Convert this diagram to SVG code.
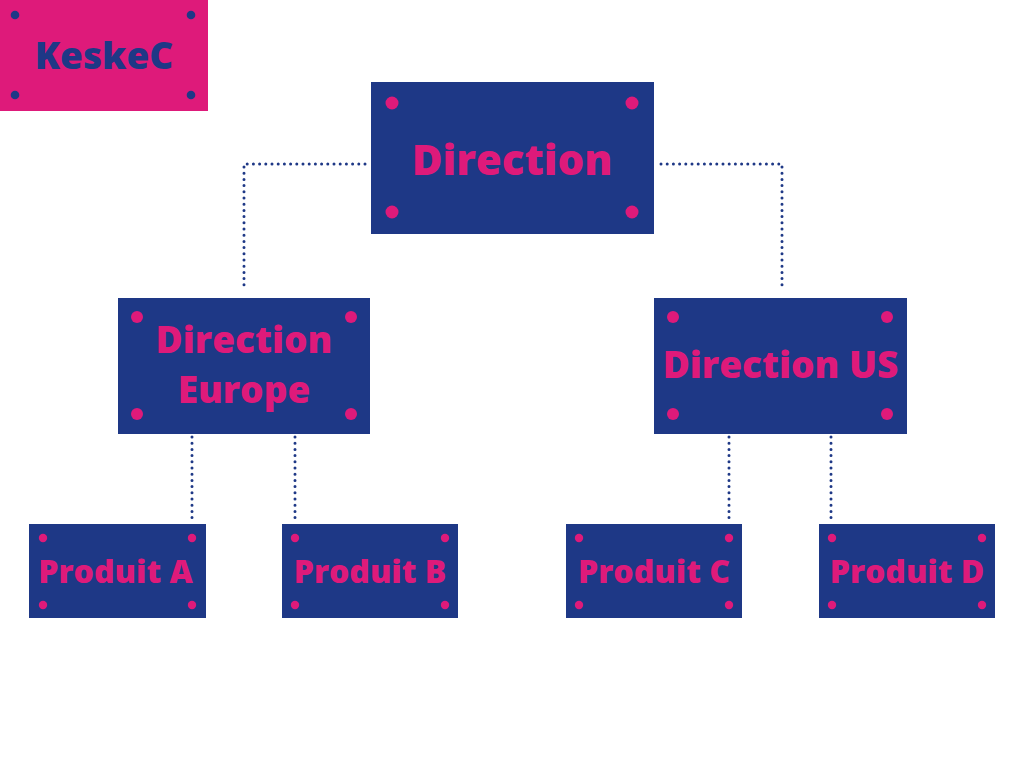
<svg xmlns="http://www.w3.org/2000/svg" width="1024" height="768" viewBox="0 0 1024 768">
<style>
.box{fill:#1E3886;}
.logo{fill:#DE1A7A;}
.dp{fill:#DE1A7A;}
.dn{fill:#1E3886;}
.t{font-family:"Open Sans","Liberation Sans",sans-serif;font-weight:800;fill:#DE1A7A;text-anchor:middle;}
.tl{font-family:"Open Sans","Liberation Sans",sans-serif;font-weight:800;fill:#1E3886;text-anchor:middle;}
.c{fill:none;stroke:#1E3886;stroke-width:3;stroke-linecap:round;stroke-dasharray:0 6.2;}
</style>
<rect width="1024" height="768" fill="#ffffff"/>
<g id="connectors">
<path class="c" d="M365 164 H244 V290"/>
<path class="c" d="M661 164 H782 V290"/>
<path class="c" d="M192 437 V520"/>
<path class="c" d="M295 437 V520"/>
<path class="c" d="M729 437 V520"/>
<path class="c" d="M831 437 V520"/>
</g>
<g id="keskec">
<rect class="logo" x="0" y="0" width="208" height="111"/>
<circle class="dn" cx="15" cy="15" r="4.3"/>
<circle class="dn" cx="191" cy="15" r="4.3"/>
<circle class="dn" cx="15" cy="95" r="4.3"/>
<circle class="dn" cx="191" cy="95" r="4.3"/>
<text class="tl" x="104" y="69" font-size="37">KeskeC</text>
</g>
<g id="direction">
<rect class="box" x="371" y="82" width="283" height="152"/>
<circle class="dp" cx="392" cy="103" r="6.5"/>
<circle class="dp" cx="632" cy="103" r="6.5"/>
<circle class="dp" cx="392" cy="212" r="6.5"/>
<circle class="dp" cx="632" cy="212" r="6.5"/>
<text class="t" x="512" y="175" font-size="42">Direction</text>
</g>
<g id="direction-europe">
<rect class="box" x="118" y="298" width="252" height="136"/>
<circle class="dp" cx="137" cy="317" r="6"/>
<circle class="dp" cx="351" cy="317" r="6"/>
<circle class="dp" cx="137" cy="414" r="6"/>
<circle class="dp" cx="351" cy="414" r="6"/>
<text class="t" x="244" y="353" font-size="37">Direction</text>
<text class="t" x="244" y="403" font-size="37">Europe</text>
</g>
<g id="direction-us">
<rect class="box" x="654" y="298" width="253" height="136"/>
<circle class="dp" cx="673" cy="317" r="6"/>
<circle class="dp" cx="887" cy="317" r="6"/>
<circle class="dp" cx="673" cy="414" r="6"/>
<circle class="dp" cx="887" cy="414" r="6"/>
<text class="t" x="780.5" y="378" font-size="37">Direction US</text>
</g>
<g id="produit-a">
<rect class="box" x="29" y="524" width="177" height="94"/>
<circle class="dp" cx="43" cy="538" r="4.2"/>
<circle class="dp" cx="192" cy="538" r="4.2"/>
<circle class="dp" cx="43" cy="605" r="4.2"/>
<circle class="dp" cx="192" cy="605" r="4.2"/>
<text class="t" x="115.5" y="583" font-size="32">Produit A</text>
</g>
<g id="produit-b">
<rect class="box" x="282" y="524" width="176" height="94"/>
<circle class="dp" cx="295" cy="538" r="4.2"/>
<circle class="dp" cx="445" cy="538" r="4.2"/>
<circle class="dp" cx="295" cy="605" r="4.2"/>
<circle class="dp" cx="445" cy="605" r="4.2"/>
<text class="t" x="370" y="583" font-size="32">Produit B</text>
</g>
<g id="produit-c">
<rect class="box" x="566" y="524" width="176" height="94"/>
<circle class="dp" cx="579" cy="538" r="4.2"/>
<circle class="dp" cx="729" cy="538" r="4.2"/>
<circle class="dp" cx="579" cy="605" r="4.2"/>
<circle class="dp" cx="729" cy="605" r="4.2"/>
<text class="t" x="654" y="583" font-size="32">Produit C</text>
</g>
<g id="produit-d">
<rect class="box" x="819" y="524" width="176" height="94"/>
<circle class="dp" cx="832" cy="538" r="4.2"/>
<circle class="dp" cx="982" cy="538" r="4.2"/>
<circle class="dp" cx="832" cy="605" r="4.2"/>
<circle class="dp" cx="982" cy="605" r="4.2"/>
<text class="t" x="907" y="583" font-size="32">Produit D</text>
</g>
</svg>
